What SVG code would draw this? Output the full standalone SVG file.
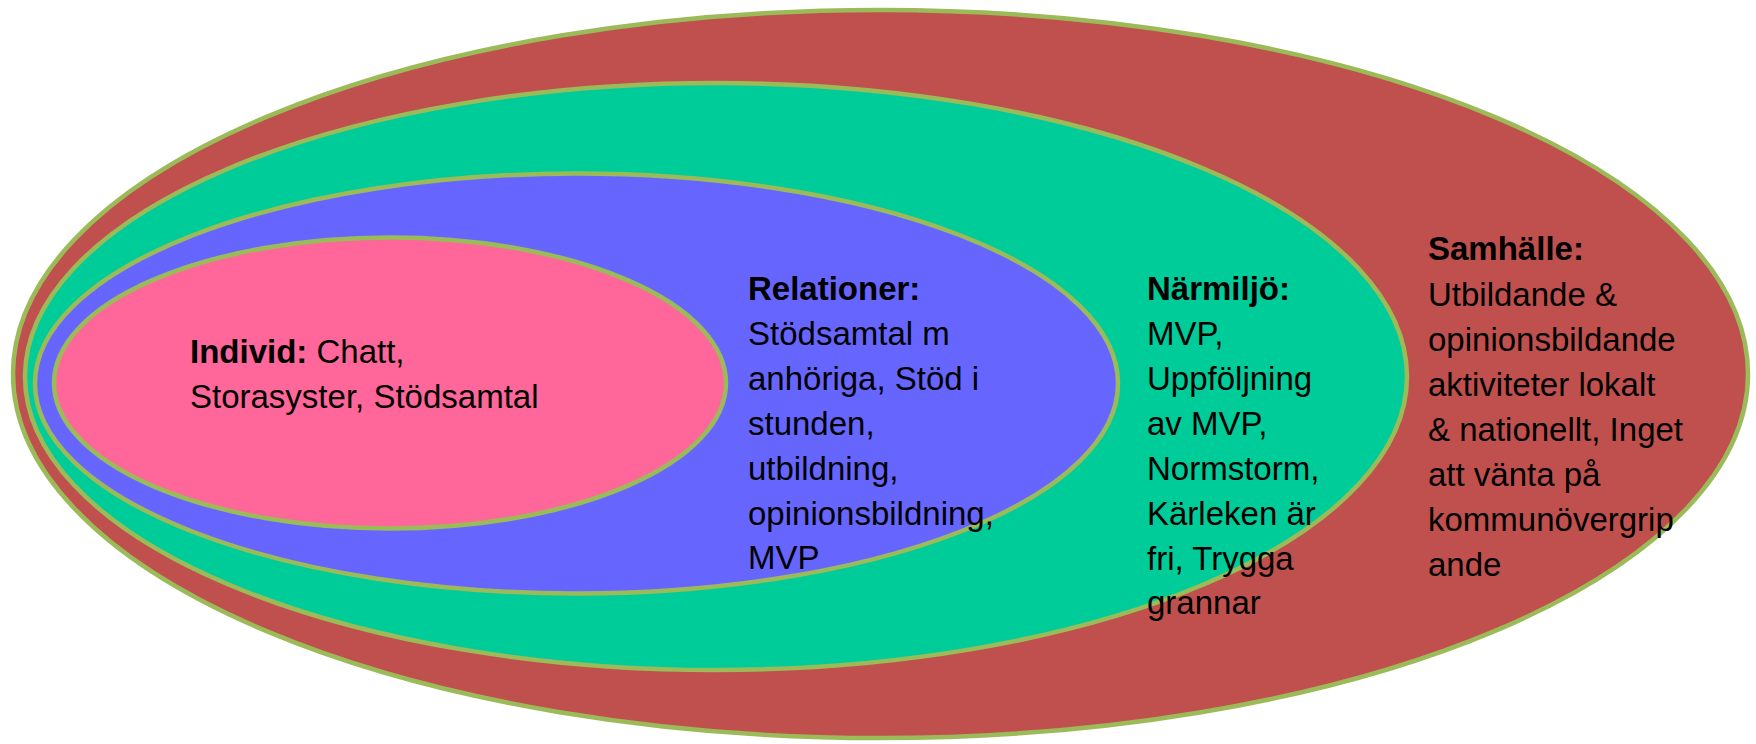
<svg xmlns="http://www.w3.org/2000/svg" width="1756" height="744" viewBox="0 0 1756 744">
<style>
.ring{stroke:#9BBB59;stroke-width:4.5}
.t{font-family:"Liberation Sans",Arial,sans-serif;font-size:33px;fill:#000}
.b{font-weight:bold}
</style>
<rect width="1756" height="744" fill="#ffffff"/>
<g id="samhalle"><ellipse class="ring" cx="880.5" cy="374" rx="867.5" ry="364" fill="#C0504D"/></g>
<g id="narmiljo"><ellipse class="ring" cx="716" cy="376.5" rx="691" ry="293.5" fill="#00CC99"/></g>
<g id="relationer"><ellipse class="ring" cx="576.5" cy="383.5" rx="541.5" ry="210" fill="#6666FF"/></g>
<g id="individ"><ellipse class="ring" cx="390" cy="383" rx="336" ry="145.5" fill="#FF6699"/></g>
<g id="connectors"></g>
<g id="labels">
<text class="t" x="190" y="363"><tspan class="b">Individ:</tspan> Chatt,</text>
<text class="t" x="190" y="408">Storasyster, Stödsamtal</text>
<text class="t" x="748" y="300"><tspan class="b">Relationer:</tspan></text>
<text class="t" x="748" y="345">Stödsamtal m</text>
<text class="t" x="748" y="390">anhöriga, Stöd i</text>
<text class="t" x="748" y="435">stunden,</text>
<text class="t" x="748" y="480">utbildning,</text>
<text class="t" x="748" y="525">opinionsbildning,</text>
<text class="t" x="748" y="569">MVP</text>
<text class="t" x="1147" y="300"><tspan class="b">Närmiljö:</tspan></text>
<text class="t" x="1147" y="345">MVP,</text>
<text class="t" x="1147" y="390">Uppföljning</text>
<text class="t" x="1147" y="435">av MVP,</text>
<text class="t" x="1147" y="480">Normstorm,</text>
<text class="t" x="1147" y="525">Kärleken är</text>
<text class="t" x="1147" y="570">fri, Trygga</text>
<text class="t" x="1147" y="614">grannar</text>
<text class="t" x="1428" y="260"><tspan class="b">Samhälle:</tspan></text>
<text class="t" x="1428" y="306">Utbildande &amp;</text>
<text class="t" x="1428" y="351">opinionsbildande</text>
<text class="t" x="1428" y="396">aktiviteter lokalt</text>
<text class="t" x="1428" y="441">&amp; nationellt, Inget</text>
<text class="t" x="1428" y="486">att vänta på</text>
<text class="t" x="1428" y="531">kommunövergrip</text>
<text class="t" x="1428" y="576">ande</text>
</g>
</svg>
